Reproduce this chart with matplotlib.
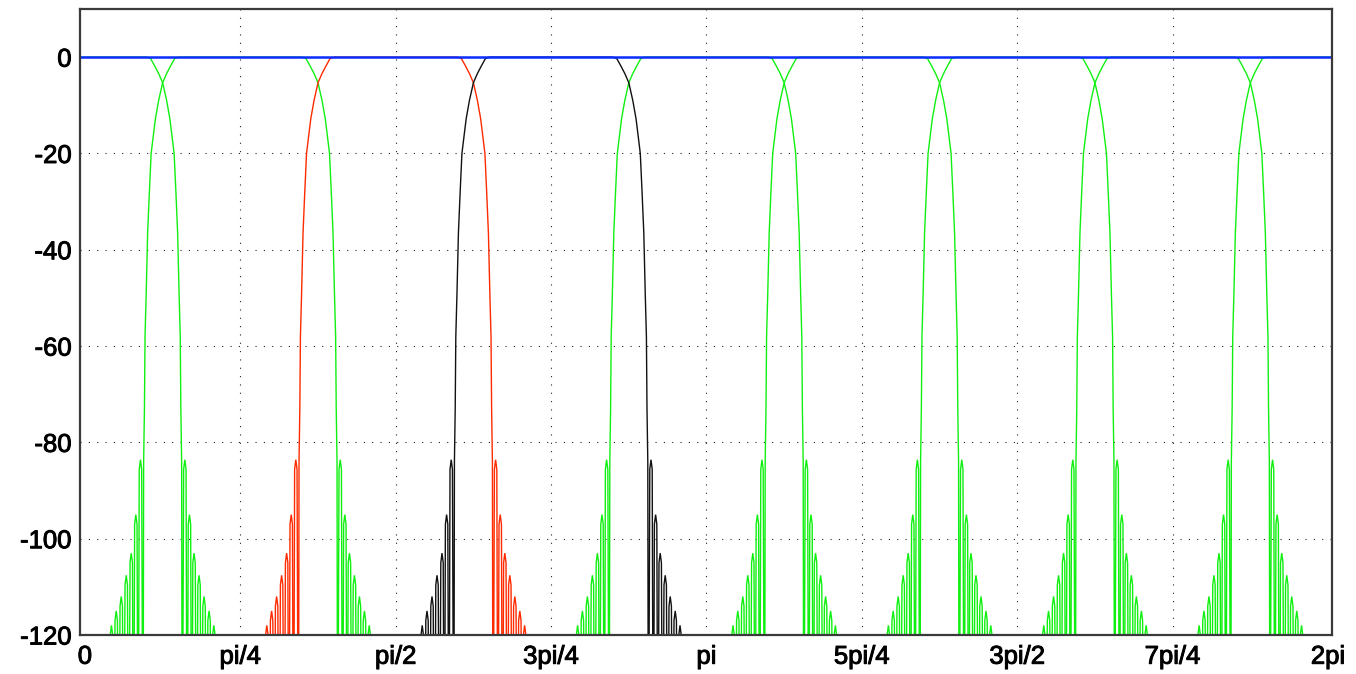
import numpy as np
import matplotlib
matplotlib.use("Agg")
import matplotlib.pyplot as plt
import matplotlib.patheffects as pe

PI = np.pi

# ---- data -------------------------------------------------------------
# tick positions / labels
X_TICKS = [0, PI / 4, PI / 2, 3 * PI / 4, PI, 5 * PI / 4, 3 * PI / 2, 7 * PI / 4, 2 * PI]
X_TICK_LABELS = ["0", "pi/4", "pi/2", "3pi/4", "pi", "5pi/4", "3pi/2", "7pi/4", "2pi"]
Y_TICKS = [0, -20, -40, -60, -80, -100, -120]
Y_TICK_LABELS = ["0", "-20", "-40", "-60", "-80", "-100", "-120"]

# filter-bank channels: centre frequency (rad) and colour
BAND_CENTERS = [0, PI / 4, PI / 2, 3 * PI / 4, PI, 5 * PI / 4, 3 * PI / 2, 7 * PI / 4, 2 * PI]
BAND_COLORS = ["green", "green", "red", "black", "green", "green", "green", "green", "green"]
BAND_HALF_WIDTH = PI / 8

# transition-band profile:
# offset (rad) beyond the band edge  ->  magnitude (dB)
SKIRT_OFFSET = [-0.0809, -0.0607, -0.0404, -0.0202, 0.0, 0.0202, 0.0366, 0.0480,
                0.0581, 0.0670, 0.0758, 0.0834, 0.0890, 0.0920, 0.0960, 0.0991,
                0.1061, 0.1122, 0.1183, 0.1238,
                0.1294, 0.1355, 0.1416, 0.1471,
                0.1526, 0.1587, 0.1648, 0.1714,
                0.1779, 0.1840, 0.1901, 0.1966,
                0.2032, 0.2093, 0.2154, 0.2219,
                0.2285, 0.2346, 0.2407, 0.2467,
                0.2527, 0.2588, 0.2649, 0.2709]
SKIRT_DB = [0.0, -0.3, -1.8, -3.4, -5.3, -9.0, -12.8, -16.6,
            -20.0, -28.0, -36.5, -49.6, -58.0, -73.0, -84.0, -160.0,
            -85.6, -83.6, -85.6, -160.0,
            -97.0, -95.0, -97.0, -160.0,
            -105.0, -103.0, -105.0, -160.0,
            -109.6, -107.6, -109.6, -160.0,
            -114.0, -112.0, -114.0, -160.0,
            -117.0, -115.0, -117.0, -160.0,
            -120.0, -118.0, -120.0, -160.0]

# overall (summed) response
SUM_LEVEL_DB = 0.0

# ---- styling ------------------------------------------------------------
COLOR_MAP = {"green": "#10f010", "red": "#ff2a00", "black": "#111111"}
BLUE = "#0a2cff"

fig = plt.figure(figsize=(13.56, 6.74), dpi=100)
ax = fig.add_axes([80 / 1356, 39 / 674, (1332 - 80) / 1356, (635 - 9) / 674])

off = np.array(SKIRT_OFFSET)
db = np.array(SKIRT_DB)

order = [i for i, c in enumerate(BAND_COLORS) if c == "green"] + \
        [i for i, c in enumerate(BAND_COLORS) if c == "red"] + \
        [i for i, c in enumerate(BAND_COLORS) if c == "black"]

for i in order:
    c = BAND_CENTERS[i]
    left_edge = c - BAND_HALF_WIDTH
    right_edge = c + BAND_HALF_WIDTH
    x = np.concatenate([left_edge - off[::-1], right_edge + off])
    y = np.concatenate([db[::-1], db])
    ax.plot(x, y, color=COLOR_MAP[BAND_COLORS[i]], lw=1.0, solid_joinstyle="miter")

ax.axhline(SUM_LEVEL_DB, color=BLUE, lw=1.8, zorder=5)

ax.set_xlim(-0.025, 2 * PI + 0.02)
ax.set_ylim(-120, 10)

ax.set_xticks(X_TICKS)
ax.set_xticklabels(X_TICK_LABELS)
ax.set_yticks(Y_TICKS)
ax.set_yticklabels(Y_TICK_LABELS)

for lab in ax.get_xticklabels() + ax.get_yticklabels():
    lab.set_fontfamily("Liberation Sans")
    lab.set_fontsize(18.5)
    lab.set_path_effects([pe.withStroke(linewidth=0.7, foreground="black")])
ax.tick_params(axis="both", length=0, colors="black")
ax.tick_params(axis="x", pad=7)
ax.tick_params(axis="y", pad=6)

# dotted grid (skip the borders)
for xv in X_TICKS[1:-1]:
    ax.axvline(xv, color="#222222", lw=0.8, ls=(0, (1, 6.5)), zorder=0.5)
for yv in Y_TICKS[1:-1]:
    ax.axhline(yv, color="#222222", lw=0.8, ls=(0, (1, 6.5)), zorder=0.5)

for s in ax.spines.values():
    s.set_color("#3a3a3a")
    s.set_linewidth(1.6)
    s.set_zorder(6)

fig.savefig("out.png", dpi=100)
